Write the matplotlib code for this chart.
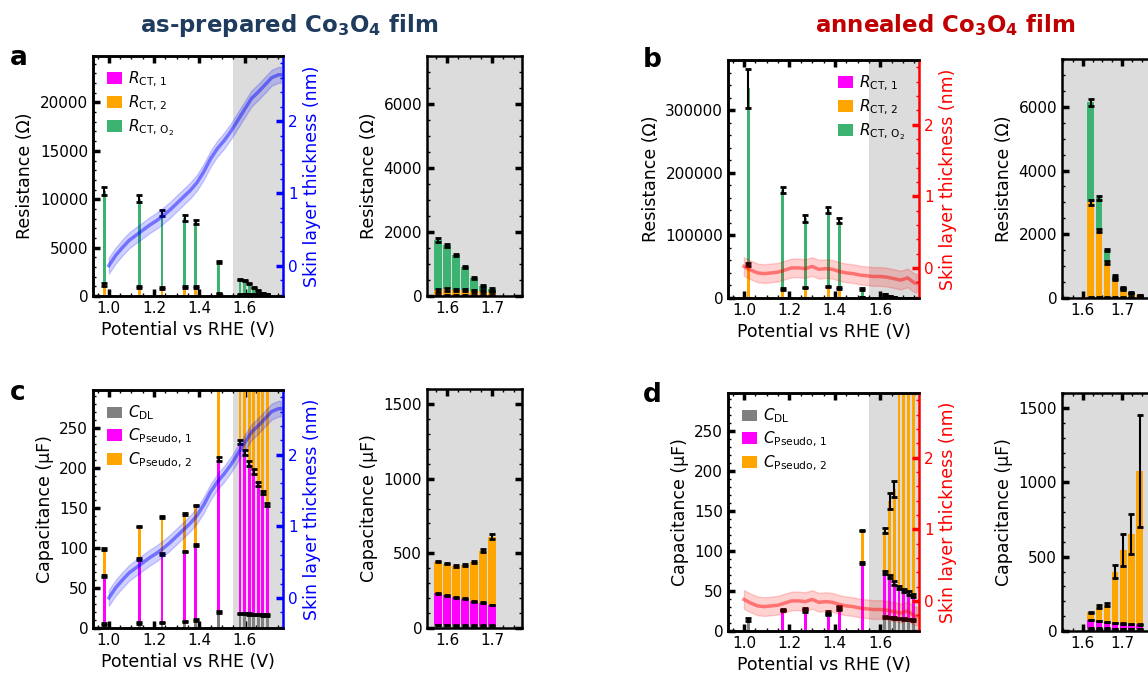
import matplotlib
matplotlib.use('Agg')
import matplotlib.pyplot as plt
from matplotlib.ticker import MultipleLocator
import numpy as np

# potentials of the impedance points (V vs RHE)
pot_ap = [0.98, 1.135, 1.235, 1.335, 1.385, 1.485, 1.58, 1.60, 1.62, 1.64, 1.66, 1.68, 1.70]
pot_an = [1.02, 1.17, 1.27, 1.37, 1.42, 1.52, 1.62, 1.641, 1.662, 1.682, 1.703, 1.724, 1.745]

# as-prepared film, resistances (Ohm), stacked segments
r1_ap = [30, 20, 20, 20, 20, 20, 20, 20, 20, 20, 20, 20, 20]
r2_ap = [1200, 880, 800, 950, 880, 250, 160, 190, 170, 170, 150, 130, 120]
ro2_ap = [9620, 9150, 7780, 7100, 6750, 3230, 1560, 1370, 1090, 710, 380, 170, 70]
r1_ap_err = [5] * 13
r2_ap_err = [150, 100, 100, 100, 100, 50, 40, 40, 40, 40, 30, 30, 30]
ro2_ap_err = [400, 380, 300, 280, 250, 100, 60, 50, 40, 35, 30, 30, 40]

# annealed film, resistances (Ohm)
r1_an = [500, 300, 300, 300, 300, 100, 20, 20, 20, 20, 20, 20, 10]
r2_an = [53000, 14500, 16500, 18000, 16000, 1500, 2980, 2100, 1100, 560, 240, 130, 70]
ro2_an = [281500, 157200, 110200, 122700, 106700, 13400, 3140, 1010, 380, 120, 70, 10, 5]
r1_an_err = [200, 100, 100, 100, 100, 50, 5, 5, 5, 5, 5, 5, 5]
r2_an_err = [3000, 1500, 1500, 1500, 1500, 300, 80, 50, 40, 30, 20, 15, 10]
ro2_an_err = [31000, 5000, 5000, 5000, 4000, 1500, 100, 60, 40, 30, 20, 15, 10]

# as-prepared film, capacitances (uF)
cdl_ap = [5, 6, 7, 8, 10, 20, 18, 18, 17.5, 17, 17, 16.5, 16]
cp1_ap = [60, 80, 85.4, 87.3, 93.7, 191, 214, 201.3, 187.5, 178.4, 162.8, 152.5, 138.6]
cp2_ap = [33.7, 40.8, 46.2, 46.7, 49.3, 209, 212, 211.7, 210, 226.6, 262.2, 347, 456.4]
cdl_ap_err = [1, 1, 1, 1, 1, 1, 1, 1, 1, 1, 1, 1, 1]
cp1_ap_err = [1, 1, 1, 1, 1, 3, 3, 3, 3, 3, 3, 2, 2]
cp2_ap_err = [1, 1, 1, 1, 1, 3, 5, 5, 5, 5, 8, 10, 15]

# annealed film, capacitances (uF)
cdl_an = [14, 1, 1, 1, 1, 1, 17.5, 17, 16.5, 15.5, 15, 14.5, 14]
cp1_an = [0, 25, 24, 19.5, 26, 83.5, 55.2, 50.6, 43.5, 39, 35.7, 32.8, 30.4]
cp2_an = [0, 0.3, 3, 3, 3.5, 40.9, 52.3, 94.4, 117, 345.5, 494.3, 604.7, 1031.6]
cdl_an_err = [2, 0, 0, 0, 0, 0, 1, 1, 1, 1, 1, 1, 1]
cp1_an_err = [0, 1, 1, 1, 1, 1, 2, 2, 2, 2, 2, 2, 2]
cp2_an_err = [0, 0.5, 1, 1, 1, 1, 3, 10, 10, 45, 105, 135, 375]

# skin layer thickness (nm)
thick_v = [1.00, 1.03, 1.06, 1.09, 1.12, 1.15, 1.18, 1.21, 1.24, 1.27, 1.30, 1.33, 1.36, 1.39,
           1.42, 1.45, 1.48, 1.51, 1.54, 1.57, 1.60, 1.63, 1.66, 1.69, 1.72, 1.75, 1.76]
thick_ap = [0.00, 0.14, 0.25, 0.35, 0.42, 0.49, 0.56, 0.62, 0.69, 0.77, 0.86, 0.95, 1.04, 1.15,
            1.30, 1.48, 1.62, 1.73, 1.86, 2.01, 2.16, 2.31, 2.40, 2.50, 2.60, 2.64, 2.64]
thick_an = [0.02, -0.03, -0.07, -0.08, -0.07, -0.06, -0.03, 0.00, 0.00, -0.01, 0.02, -0.02, -0.01, -0.02,
            -0.05, -0.07, -0.08, -0.10, -0.11, -0.12, -0.12, -0.13, -0.15, -0.17, -0.14, -0.21, -0.21]
band_ap = 0.11
band_an = 0.13

R_labels = [r'$R_\mathrm{CT,\,1}$', r'$R_\mathrm{CT,\,2}$', r'$R_\mathrm{CT,\,O_2}$']
R_colors = ['#FF00FF', '#FFA500', '#3CB371']
C_labels = [r'$C_\mathrm{DL}$', r'$C_\mathrm{Pseudo,\,1}$', r'$C_\mathrm{Pseudo,\,2}$']
C_colors = ['#808080', '#FF00FF', '#FFA500']

W, H = 1148, 679
fig = plt.figure(figsize=(W / 100, H / 100), dpi=100)


def px_axes(left, top, right, bottom):
    return fig.add_axes([left / W, 1 - bottom / H, (right - left) / W, (bottom - top) / H])


def style(ax, xmaj, xmin, ymaj, ymin, right=True):
    ax.xaxis.set_major_locator(MultipleLocator(xmaj))
    ax.xaxis.set_minor_locator(MultipleLocator(xmin))
    ax.yaxis.set_major_locator(MultipleLocator(ymaj))
    ax.yaxis.set_minor_locator(MultipleLocator(ymin))
    ax.tick_params(which='both', direction='in', top=True, right=right, labelsize=11)
    ax.tick_params(which='major', length=5, width=2.5)
    ax.tick_params(which='minor', length=2.5, width=1)
    for s in ax.spines.values():
        s.set_linewidth(1.8)


def stacked(ax, x, segs, errs, colors, labels, width):
    x = np.array(x)
    bottom = np.zeros(len(x))
    for seg, err, c, lab in zip(segs, errs, colors, labels):
        seg = np.array(seg, dtype=float)
        err = np.array(err, dtype=float)
        ax.bar(x, seg, width, bottom=bottom, color=c, label=lab, zorder=2)
        top = bottom + seg
        m = err > 0
        ax.errorbar(x[m], top[m], yerr=err[m], fmt='none', ecolor='black',
                    elinewidth=1.5, capsize=2.5, capthick=2, zorder=3)
        bottom = top


def skin(ax, v, t, band, col):
    tw = ax.twinx()
    v = np.array(v)
    t = np.array(t)
    tw.fill_between(v, t - band, t + band, color=col, alpha=0.18, lw=1)
    tw.plot(v, t, color=col, lw=2.5, alpha=0.45)
    tw.set_ylim(-0.42, 2.9)
    tw.yaxis.set_major_locator(MultipleLocator(1))
    tw.yaxis.set_minor_locator(MultipleLocator(0.2))
    tw.tick_params(axis='y', which='both', direction='in', colors=col, labelsize=11)
    tw.tick_params(axis='y', which='major', length=5, width=2.5)
    tw.tick_params(axis='y', which='minor', length=2.5, width=1)
    for s in tw.spines.values():
        s.set_linewidth(1.8)
    tw.spines['right'].set_color(col)
    tw.set_ylabel('Skin layer thickness (nm)', color=col, fontsize=12.5)


def panel(box_main, box_inset, pot, segs, errs, colors, labels, ylab,
          ylim_main, ymaj_main, ymin_main, ylim_ins, ymaj_ins, ymin_ins,
          thick, band, col, leg_loc, xlim_ins):
    ax = px_axes(*box_main)
    ax.axvspan(1.55, 1.8, color='#DCDCDC', lw=0, zorder=0)
    stacked(ax, pot, segs, errs, colors, labels, 0.013)
    ax.set_xlim(0.93, 1.77)
    ax.set_ylim(*ylim_main)
    style(ax, 0.2, 0.05, ymaj_main, ymin_main, right=False)
    ax.spines['right'].set_visible(False)
    ax.set_xlabel('Potential vs RHE (V)', fontsize=12.5)
    ax.set_ylabel(ylab, fontsize=12.5)
    ax.legend(loc=leg_loc, frameon=False, fontsize=11, handlelength=1.0,
              handleheight=0.8, labelspacing=0.3, handletextpad=0.4)
    skin(ax, thick_v, thick, band, col)

    ins = px_axes(*box_inset)
    ins.axvspan(1.5, 1.9, color='#DCDCDC', lw=0, zorder=0)
    stacked(ins, pot, segs, errs, colors, labels, 0.017)
    ins.set_xlim(*xlim_ins)
    ins.set_ylim(*ylim_ins)
    style(ins, 0.1, 0.025, ymaj_ins, ymin_ins, right=True)
    ins.set_ylabel(ylab, fontsize=12.5)


panel((93, 56, 283, 296), (427, 56, 522, 296), pot_ap,
      [r1_ap, r2_ap, ro2_ap], [r1_ap_err, r2_ap_err, ro2_ap_err], R_colors, R_labels,
      'Resistance (Ω)', (0, 24800), 5000, 1000, (0, 7500), 2000, 500,
      thick_ap, band_ap, 'blue', 'upper left', (1.555, 1.767))

panel((728, 60, 919, 298), (1062, 59, 1157, 298), pot_an,
      [r1_an, r2_an, ro2_an], [r1_an_err, r2_an_err, ro2_an_err], R_colors, R_labels,
      'Resistance (Ω)', (0, 380000), 100000, 20000, (0, 7500), 2000, 500,
      thick_an, band_an, 'red', 'upper right', (1.547, 1.789))

panel((93, 390, 283, 628), (427, 389, 522, 628), pot_ap,
      [cdl_ap, cp1_ap, cp2_ap], [cdl_ap_err, cp1_ap_err, cp2_ap_err], C_colors, C_labels,
      'Capacitance (µF)', (0, 297), 50, 10, (0, 1600), 500, 100,
      thick_ap, band_ap, 'blue', 'upper left', (1.555, 1.767))

panel((728, 393, 919, 631), (1062, 393, 1157, 631), pot_an,
      [cdl_an, cp1_an, cp2_an], [cdl_an_err, cp1_an_err, cp2_an_err], C_colors, C_labels,
      'Capacitance (µF)', (0, 297), 50, 10, (0, 1600), 500, 100,
      thick_an, band_an, 'red', 'upper left', (1.547, 1.789))

# panel letters and column titles
for letter, x, y in [('a', 10, 65), ('b', 643, 67), ('c', 10, 400), ('d', 643, 402)]:
    fig.text(x / W, 1 - y / H, letter, fontsize=19, fontweight='bold', ha='left', va='baseline')

fig.text(289 / W, 1 - 32 / H, r'as-prepared Co$_\mathbf{3}$O$_\mathbf{4}$ film', fontsize=16.5,
         fontweight='bold', color='#1F3C5F', ha='center', va='baseline')
fig.text(945 / W, 1 - 32 / H, r'annealed Co$_\mathbf{3}$O$_\mathbf{4}$ film', fontsize=16.5,
         fontweight='bold', color='#C00000', ha='center', va='baseline')

fig.savefig('out.png', dpi=100)
